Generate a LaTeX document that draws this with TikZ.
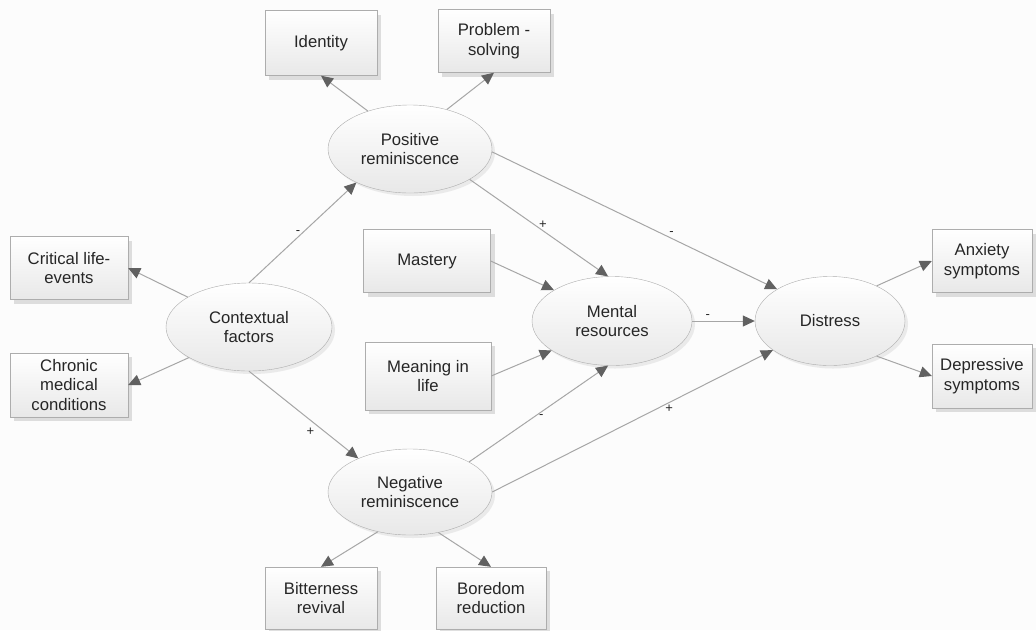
\documentclass[tikz,border=0pt]{standalone}
\usepackage{fontspec}
\setmainfont{Liberation Sans}
\usetikzlibrary{shapes.geometric, arrows.meta, shadows}

\begin{document}
\begin{tikzpicture}[x=1pt, y=-1pt,
        font=\fontsize{16.7}{19.5}\selectfont,
        box/.style={draw=black!32, rectangle, align=center, text=black!85, inner sep=1pt, top color=white, bottom color=black!9, drop shadow={shadow xshift=4pt, shadow yshift=-4pt, fill=black!25}},
        oval/.style={draw=black!32, ellipse, align=center, text=black!85, inner sep=0pt, top color=white, bottom color=black!9, drop shadow={shadow xshift=3pt, shadow yshift=-3pt, fill=black!15}},
        arrow/.style={-{Triangle[length=12pt, width=11pt, fill=black!62, color=black!62]}, draw=black!35, line width=1pt},
        sign/.style={font=\fontsize{13}{13}\selectfont, text=black!85, inner sep=2pt}
    ]
\path[use as bounding box, fill=black!1] (0,0) rectangle (1036,630);

\node[oval, minimum width=166pt, minimum height=88pt] (context) at (249,327) {Contextual\\factors};
        \node[oval, minimum width=164pt, minimum height=88pt] (posrem) at (410,149) {Positive\\reminiscence};
        \node[oval, minimum width=164pt, minimum height=86pt] (negrem) at (410,492) {Negative\\reminiscence};
        \node[oval, minimum width=160pt, minimum height=89pt] (mental) at (612,321) {Mental\\resources};
        \node[oval, minimum width=150pt, minimum height=89pt] (distress) at (830,321) {Distress};

        \node[box, minimum width=112pt, minimum height=65pt] (identity) at (321,43) {Identity};
        \node[box, minimum width=112pt, minimum height=63pt] (problem) at (494,41) {Problem -\\solving};
        \node[box, minimum width=118pt, minimum height=63pt] (critical) at (69,268) {Critical life-\\events};
        \node[box, minimum width=118pt, minimum height=64pt] (chronic) at (69,385) {Chronic\\medical\\conditions};
        \node[box, minimum width=127pt, minimum height=63pt] (mastery) at (427,261) {Mastery};
        \node[box, minimum width=126pt, minimum height=68pt] (meaning) at (428,376) {Meaning in\\life};
        \node[box, minimum width=112pt, minimum height=62pt] (bitter) at (321,598) {Bitterness\\revival};
        \node[box, minimum width=110pt, minimum height=62pt] (boredom) at (491,598) {Boredom\\reduction};
        \node[box, minimum width=100pt, minimum height=63pt] (anxiety) at (982,261) {Anxiety\\symptoms};
        \node[box, minimum width=100pt, minimum height=64pt] (depress) at (982,376) {Depressive\\symptoms};

\draw[arrow] (context.154) -- (critical.east);
        \draw[arrow] (context.207) -- (chronic.east);
        \draw[arrow] (context.north) -- node[sign, left] {-} (posrem.212);
        \draw[arrow] (context.south) -- node[sign, pos=0.62, below left] {+} (negrem.147);
        \draw[arrow] (posrem.138) -- (identity.south);
        \draw[arrow] (posrem.47) -- (problem.south);
        \draw[arrow] (posrem.333) -- node[sign, pos=0.53, above] {+} (mental.95);
        \draw[arrow] (posrem.358) -- node[sign, pos=0.63, above] {-} (distress.149);
        \draw[arrow] (mastery.east) -- (mental.152);
        \draw[arrow] (meaning.east) -- (mental.206);
        \draw[arrow] (negrem.27) -- node[sign, pos=0.52, below] {-} (mental.265);
        \draw[arrow] (negrem.east) -- node[sign, pos=0.63, below] {+} (distress.207);
        \draw[arrow] (mental) -- node[sign, pos=0.25, above] {-} (distress);
        \draw[arrow] (distress.37) -- (anxiety.west);
        \draw[arrow] (distress.323) -- (depress.west);
        \draw[arrow] (negrem.231) -- (bitter.north);
        \draw[arrow] (negrem.305) -- (boredom.north);

    \end{tikzpicture}
\end{document}
